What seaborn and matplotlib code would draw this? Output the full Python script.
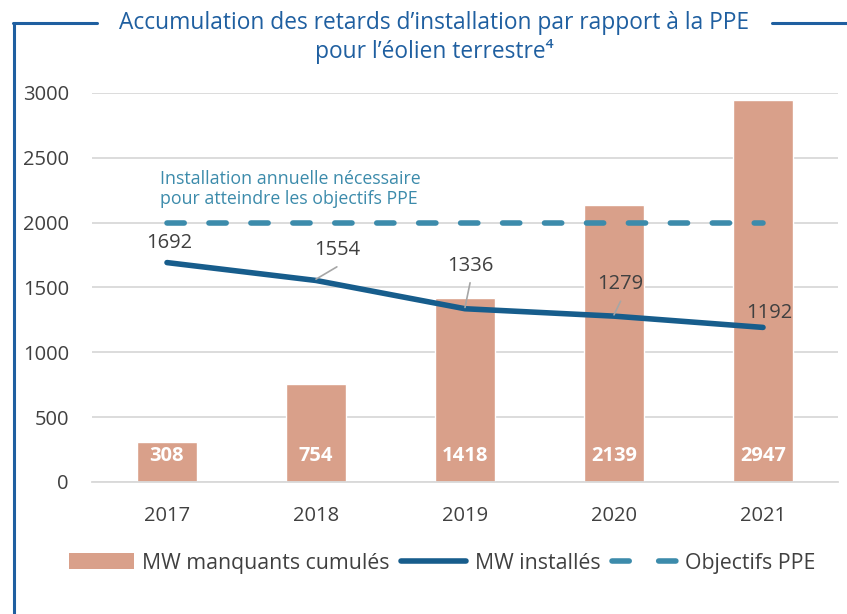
import numpy as np
import pandas as pd
import matplotlib.pyplot as plt
import seaborn as sns
from matplotlib.lines import Line2D
from matplotlib.patches import Patch

# data
years = ["2017", "2018", "2019", "2020", "2021"]
mw_manquants = [308, 754, 1418, 2139, 2947]
mw_installes = [1692, 1554, 1336, 1279, 1192]
objectif_ppe = [2000, 2000, 2000, 2000, 2000]
y_ticks = [0, 500, 1000, 1500, 2000, 2500, 3000]

# colours
bar_color = "#D9A08A"
line_color = "#175D8C"
dash_color = "#3C8BAB"
title_color = "#1F5FA0"
text_color = "#404040"

sns.set_theme(style="white")
plt.rcParams['font.family'] = ['Open Sans', 'DejaVu Sans']

df = pd.DataFrame({"annee": years, "manquants": mw_manquants,
                   "installes": mw_installes, "objectif": objectif_ppe})
pos = np.arange(len(years))

fig = plt.figure(figsize=(8.47, 6.14), dpi=100)
ax = fig.add_axes([0.1092, 0.215, 0.8796, 0.6336])

# bars
sns.barplot(data=df, x="annee", y="manquants", color=bar_color, width=0.4,
            saturation=1, ax=ax, zorder=2)

# line for installed MW
sns.lineplot(x=pos, y=df["installes"], color=line_color, linewidth=4,
             ax=ax, zorder=4, solid_capstyle="round")

# dashed objective line
sns.lineplot(x=pos, y=df["objectif"], color=dash_color, linewidth=4,
             ax=ax, zorder=3, dashes=False)
ax.lines[-1].set_dashes([3.1, 4.45])
ax.lines[-1].set_dash_capstyle("round")

ax.set_xlim(-0.5, len(years) - 0.5)
ax.set_ylim(0, 3000)
ax.set_yticks(y_ticks)
ax.set_xlabel("")
ax.set_ylabel("")

ax.grid(axis="y", color="#D9D9D9", linewidth=1.3, zorder=0)
ax.set_axisbelow(True)
for s in ["left", "right", "top"]:
    ax.spines[s].set_visible(False)
ax.spines["bottom"].set_color("#D9D9D9")
ax.spines["bottom"].set_linewidth(1.3)

# tick marks at category boundaries, like the spreadsheet
ax.set_xticks(np.arange(-0.5, len(years), 1), minor=True)
ax.tick_params(axis="x", which="minor", length=6, color="#D9D9D9", width=1.3, direction="out")
ax.tick_params(axis="x", which="major", length=0, pad=17, labelsize=14.5, labelcolor=text_color)
ax.tick_params(axis="y", length=0, pad=17, labelsize=14.5, labelcolor=text_color)

# bar labels, white bold inside
for i, v in enumerate(mw_manquants):
    ax.text(i, 200, str(v), ha="center", va="center", color="white",
            fontsize=14.5, fontweight="bold", zorder=5)

# line labels with small leader lines
label_offsets = [(0.013, 151), (0.14, 235), (0.034, 330), (0.044, 245), (0.044, 115)]
leaders = [False, True, True, True, False]
for i, v in enumerate(mw_installes):
    dx, dy = label_offsets[i]
    ax.text(i + dx, v + dy, str(v), ha="center", va="center",
            color=text_color, fontsize=14.5, zorder=6)
    if leaders[i]:
        ax.plot([i + dx, i], [v + dy - 130, v + 10], color="#A6A6A6",
                linewidth=1.2, zorder=5)

ax.text(-0.05, 2262, "Installation annuelle nécessaire\npour atteindre les objectifs PPE",
        ha="left", va="center", color=dash_color, fontsize=12.8, linespacing=1.15)

# title
fig.text(0.513, 0.953, "Accumulation des retards d\u2019installation par rapport à la PPE",
         ha="center", va="baseline", color=title_color, fontsize=16.4)
fig.text(0.513, 0.905, "pour l\u2019éolien terrestre\u2074",
         ha="center", va="baseline", color=title_color, fontsize=16.4)

# frame around the chart
frame_kw = dict(color=title_color, linewidth=2.2, transform=fig.transFigure, clip_on=False)
fig.add_artist(Line2D([0.0165, 0.0165], [0.0, 0.9625], **frame_kw))
fig.add_artist(Line2D([0.0155, 0.1145], [0.9625, 0.9625], **frame_kw))
fig.add_artist(Line2D([0.911, 1.0], [0.9625, 0.9625], **frame_kw))

# legend
handles = [
    Patch(facecolor=bar_color, edgecolor="none"),
    Line2D([], [], color=line_color, linewidth=4, solid_capstyle="round"),
    Line2D([], [], color=dash_color, linewidth=4, dashes=[3.1, 5.3], dash_capstyle="round"),
]
labels = ["MW manquants cumulés", "MW installés", "Objectifs PPE"]
fig.legend(handles, labels, loc="center", bbox_to_anchor=(0.522, 0.083), ncol=3,
           frameon=False, fontsize=15.3, handlelength=3.05, handleheight=0.75,
           columnspacing=0.55, handletextpad=0.4, labelcolor=text_color)

fig.savefig("out.png", dpi=100)
